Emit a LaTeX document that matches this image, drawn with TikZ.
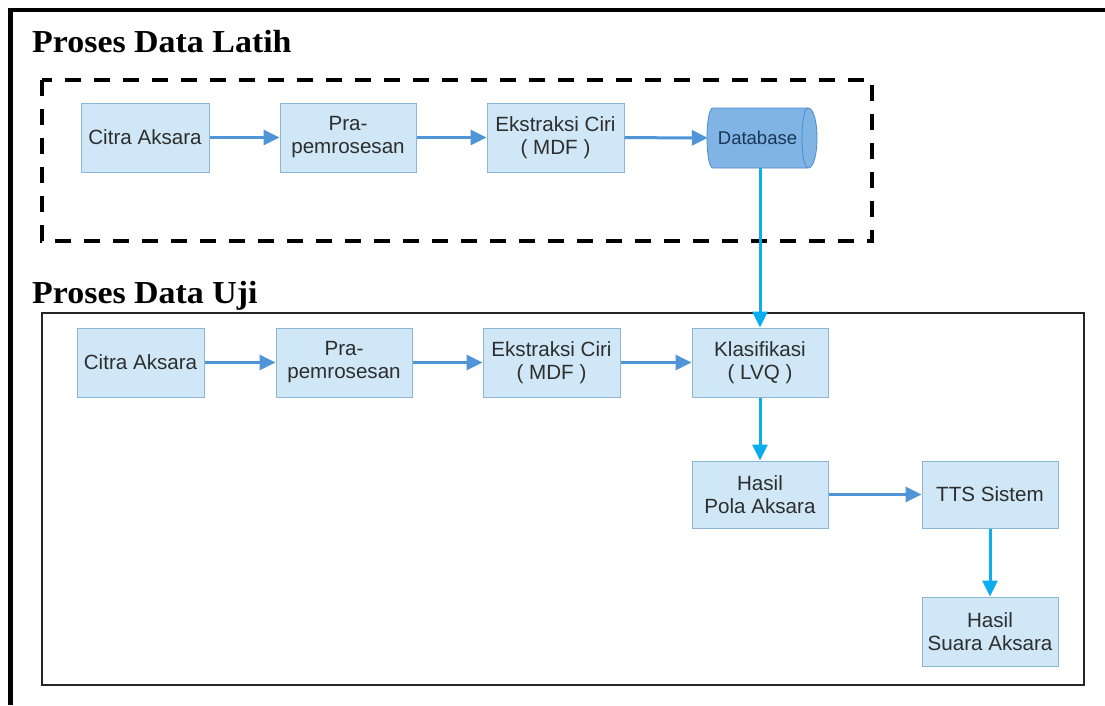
\documentclass[tikz,border=0pt]{standalone}
\usepackage{fontspec}
\setmainfont{Liberation Sans}
\newfontfamily\titlefont[FakeStretch=1.06]{Liberation Serif}
\usetikzlibrary{arrows.meta}
\definecolor{boxfill}{HTML}{CFE7F6}
\definecolor{boxline}{HTML}{8DB6D6}
\definecolor{hblue}{HTML}{4F95D8}
\definecolor{vblue}{HTML}{0AAEEF}
\definecolor{dbfill}{HTML}{7FB4E4}
\definecolor{dbline}{HTML}{4E8CC8}
\definecolor{dbtext}{HTML}{1B3554}
\definecolor{txt}{HTML}{2E2E2E}
\tikzset{
  procbox/.style={draw=boxline, fill=boxfill, line width=1pt, rectangle, inner sep=0pt,
    minimum height=69pt, align=center, text=txt, font=\fontsize{20.6}{23}\selectfont},
  harrow/.style={draw=hblue, line width=3pt, -{Triangle[length=16pt,width=15pt]}},
  varrow/.style={draw=vblue, line width=3pt, -{Triangle[length=16pt,width=15pt]}},
  titletext/.style={anchor=base west, inner sep=0pt, font=\titlefont\bfseries\fontsize{32}{36}\selectfont}
}
\begin{document}
\begin{tikzpicture}[x=1pt,y=-1pt]
\useasboundingbox (0,0) rectangle (1105,705);
\fill[white] (0,0) rectangle (1105,705);
% outer frame (cropped)
\draw[line width=4.2pt, line join=miter] (10.5,705) -- (10.5,10.3) -- (1105,10.3);
% titles
\node[titletext] (t1) at (32,52) {Proses Data Latih};
\node[titletext] (t2) at (32,303) {Proses Data Uji};
% dashed group
\draw[line width=4pt, dash pattern=on 16pt off 13pt] (42,80) rectangle (872,241);
% solid group
\draw[line width=2.4pt, draw=black!85] (41.7,313) rectangle (1084,685);

% top row
\node[procbox, minimum width=128pt] (a1) at (145,137.5) {Citra Aksara};
\node[procbox, minimum width=136pt] (b1) at (348,137.5) {Pra-\\pemrosesan};
\node[procbox, minimum width=137pt] (c1) at (555.5,137.5) {Ekstraksi Ciri\\( MDF )};
\node[inner sep=0pt, minimum width=109pt, minimum height=60pt] (db) at (762.5,138) {};
\draw[draw=dbline, fill=dbfill, line width=0.8pt]
  (713,108) -- (808,108) .. controls (820,108) and (820,168) .. (808,168)
  -- (713,168) .. controls (705,168) and (705,108) .. (713,108) -- cycle;
\draw[draw=dbline, line width=0.8pt] (808,108) .. controls (800,108) and (800,168) .. (808,168);
\node[text=dbtext, font=\fontsize{18.5}{20}\selectfont, inner sep=0pt] (dbl) at (757.5,138) {Database};

% bottom row
\node[procbox, minimum width=127pt] (a2) at (140.5,362.5) {Citra Aksara};
\node[procbox, minimum width=136pt] (b2) at (344,362.5) {Pra-\\pemrosesan};
\node[procbox, minimum width=137pt] (c2) at (551.5,362.5) {Ekstraksi Ciri\\( MDF )};
\node[procbox, minimum width=136pt] (k2) at (760,362.5) {Klasifikasi\\( LVQ )};
\node[procbox, minimum width=136pt, minimum height=67pt] (h2) at (760,494.5) {Hasil\\Pola Aksara};
\node[procbox, minimum width=136pt, minimum height=67pt] (s2) at (990,494.5) {TTS Sistem};
\node[procbox, minimum width=136pt] (r2) at (990,631.5) {Hasil\\Suara Aksara};

% connectors
\draw[harrow] (a1) -- (b1);
\draw[harrow] (b1) -- (c1);
\draw[harrow] (c1) -- (db);
\draw[varrow] (db.south -| k2.north) -- (k2.north);
\draw[harrow] (a2) -- (b2);
\draw[harrow] (b2) -- (c2);
\draw[harrow] (c2) -- (k2);
\draw[varrow] (k2) -- (h2);
\draw[harrow] (h2) -- (s2);
\draw[varrow] (s2) -- (r2);
\end{tikzpicture}
\end{document}
